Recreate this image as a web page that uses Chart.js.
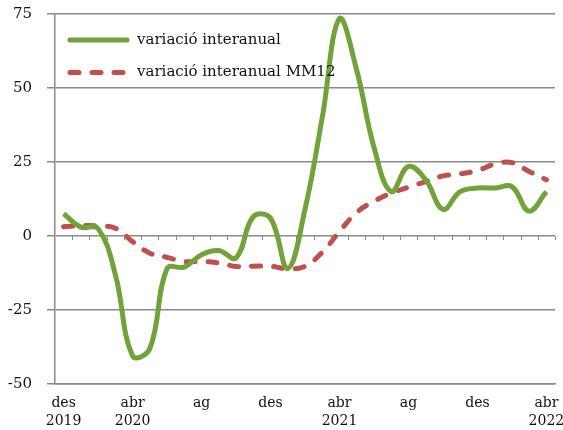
<!DOCTYPE html>
<html>
<head>
<meta charset="utf-8">
<script src="https://cdn.jsdelivr.net/npm/chart.js@4/dist/chart.umd.min.js"></script>
<style>
  html, body { margin: 0; padding: 0; background: #fff; }
  #wrap { width: 563px; height: 430px; }
</style>
</head>
<body>
<div id="wrap"><canvas id="chart" width="563" height="430"></canvas></div>
<script>
// months from des 2019 to abr 2022
const months = [
  'des 2019',
  'gen 2020', 'febr 2020', 'març 2020', 'abr 2020', 'maig 2020', 'juny 2020',
  'jul 2020', 'ag 2020', 'set 2020', 'oct 2020', 'nov 2020', 'des 2020',
  'gen 2021', 'febr 2021', 'març 2021', 'abr 2021', 'maig 2021', 'juny 2021',
  'jul 2021', 'ag 2021', 'set 2021', 'oct 2021', 'nov 2021', 'des 2021',
  'gen 2022', 'febr 2022', 'març 2022', 'abr 2022'
];
// only every 4th month gets a label
const tickLabels = [['des', '2019'], ['abr', '2020'], 'ag', 'des', ['abr', '2021'], 'ag', 'des', ['abr', '2022']];

const interanual = [7.5, 3, 2.5, -13, -40.5, -38, -11, -10.5, -6.3, -4.9, -7.4, 6.5, 6, -11,
  9, 40, 73.5, 56, 30, 15, 23.5, 19, 9, 15, 16.2, 16.2, 16.7, 8.4, 15];
const interanualMM12 = [3.1, 3.5, 3.4, 2.6, -1.9, -5.8, -7.2, -8.6, -8.6, -9.1, -10.3, -10.2, -10.2, -11.1,
  -10.2, -5.5, 1.5, 8, 11.7, 14.5, 16.5, 18.4, 20.3, 21, 22.1, 24.3, 24.8, 21.8, 19];

const FONT = "'DejaVu Serif', 'Liberation Serif', serif";
const GRID = '#8a8a8a';

// little month ticks hanging from the zero line
const zeroTicks = {
  id: 'zeroTicks',
  afterDatasetsDraw(chart) {
    const {ctx, scales: {x, y}} = chart;
    const y0 = y.getPixelForValue(0);
    ctx.save();
    ctx.strokeStyle = GRID;
    ctx.lineWidth = 1;
    for (let k = 1; k <= months.length; k++) {
      const px = Math.round(x.getPixelForValue(k - 0.5)) + 0.5;
      ctx.beginPath();
      ctx.moveTo(px, y0);
      ctx.lineTo(px, y0 + 4);
      ctx.stroke();
    }
    ctx.restore();
  }
};

// legend drawn inside the plot, top left
const innerLegend = {
  id: 'innerLegend',
  afterDraw(chart) {
    const {ctx, chartArea} = chart;
    ctx.save();
    ctx.font = '15px ' + FONT;
    ctx.textBaseline = 'middle';
    chart.data.datasets.forEach((ds, i) => {
      const yy = chartArea.top + 26 + i * 32.5;
      const x0 = chartArea.left + 15;
      ctx.strokeStyle = ds.borderColor;
      ctx.lineWidth = ds.borderWidth;
      ctx.lineCap = 'round';
      ctx.setLineDash(ds.borderDash || []);
      ctx.beginPath();
      ctx.moveTo(x0, yy);
      ctx.lineTo(x0 + 57, yy);
      ctx.stroke();
      ctx.setLineDash([]);
      ctx.fillStyle = '#111';
      ctx.fillText(ds.label, x0 + 67, yy);
    });
    ctx.restore();
  }
};

new Chart(document.getElementById('chart'), {
  type: 'line',
  data: {
    labels: months,
    datasets: [
      {
        label: 'variació interanual',
        data: interanual,
        borderColor: '#72a338',
        borderWidth: 5,
        pointRadius: 0,
        tension: 0.4,
        fill: false,
      },
      {
        label: 'variació interanual MM12',
        data: interanualMM12,
        borderColor: '#c0504d',
        borderWidth: 5,
        borderDash: [9, 13],
        borderCapStyle: 'round',
        pointRadius: 0,
        tension: 0.4,
        fill: false,
      },
    ],
  },
  options: {
    responsive: false,
    animation: false,
    layout: { padding: { top: 14, right: 8, left: 0, bottom: 0 } },
    plugins: {
      legend: { display: false },
      tooltip: { enabled: false },
    },
    scales: {
      x: {
        offset: true,
        grid: { display: false, drawTicks: false },
        border: { display: true, color: GRID, width: 1.5 },
        ticks: {
          autoSkip: false,
          maxRotation: 0,
          padding: 10,
          color: '#111',
          font: { family: FONT, size: 14, lineHeight: 1.3 },
          callback: (v, i) => (i % 4 === 0 ? tickLabels[i / 4] : ''),
        },
        afterFit: (s) => { s.height = 46; s.paddingRight = 0; s.paddingLeft = 0; },
      },
      y: {
        min: -50,
        max: 75,
        ticks: {
          stepSize: 25,
          padding: 15,
          color: '#111',
          font: { family: FONT, size: 15 },
        },
        grid: { color: GRID, lineWidth: 1.5, tickLength: 8 },
        border: { display: true, color: GRID, width: 1.5 },
        afterFit: (s) => { s.width = 55; s.paddingTop = 0; s.paddingBottom = 0; },
      },
    },
  },
  plugins: [zeroTicks, innerLegend],
});
</script>
</body>
</html>
